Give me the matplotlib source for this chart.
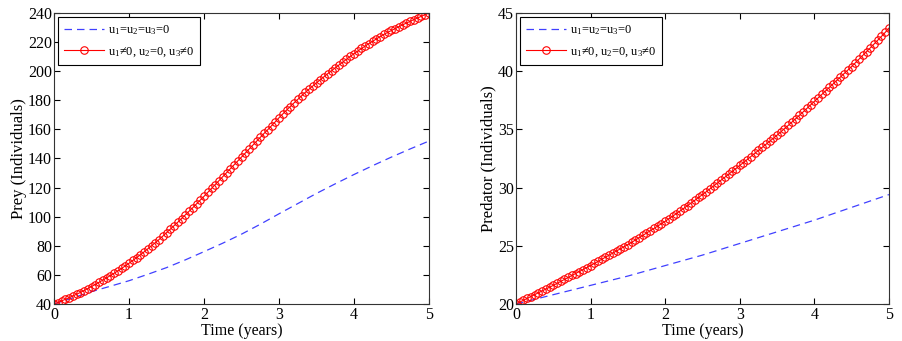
import numpy as np
import matplotlib
matplotlib.use("Agg")
import matplotlib.pyplot as plt

plt.rcParams['font.family'] = ['Liberation Serif', 'DejaVu Serif']
plt.rcParams['mathtext.fontset'] = 'custom'
plt.rcParams['mathtext.rm'] = 'Liberation Serif'
plt.rcParams['mathtext.it'] = 'Liberation Serif'

# time grids
t_fine = np.linspace(0, 5, 101)
t_coarse = np.linspace(0, 5, 21)

# prey, no control (dashed blue)
prey_none = [40, 44.2, 48.5, 52.2, 56, 60.4, 65, 70.3, 76, 81.8, 88,
             94.8, 102, 109, 116, 122.6, 129, 135.1, 141, 146.6, 152]

# prey, u1!=0, u2=0, u3!=0 (red circles)
prey_ctrl = [40, 41.0, 42.1, 43.2, 44.3, 45.5, 46.7, 47.9, 49.2, 50.6, 52.0,
             53.4, 54.9, 56.4, 57.9, 59.5, 61.1, 62.7, 64.4, 66.2, 68.0,
             69.9, 71.8, 73.8, 75.8, 77.9, 80.0, 82.1, 84.3, 86.6, 89.0,
             91.4, 93.8, 96.2, 98.7, 101.2, 103.7, 106.2, 108.8, 111.4, 114.0,
             116.7, 119.4, 122.1, 124.8, 127.5, 130.2, 132.9, 135.6, 138.3, 141.0,
             143.7, 146.4, 149.1, 151.8, 154.5, 157.2, 159.8, 162.5, 165.2, 168.0,
             170.6, 173.2, 175.7, 178.2, 180.6, 183.0, 185.4, 187.6, 189.8, 192.0,
             194.1, 196.2, 198.3, 200.3, 202.3, 204.3, 206.2, 208.2, 210.1, 212.0,
             213.8, 215.6, 217.3, 219.0, 220.6, 222.2, 223.8, 225.3, 226.7, 228.0,
             229.3, 230.6, 231.9, 233.1, 234.3, 235.5, 236.6, 237.8, 238.9, 240.0]

# predator, no control
pred_none = [20, 20.4, 20.8, 21.2, 21.6, 22.0, 22.4, 22.85, 23.3, 23.75, 24.2,
             24.7, 25.2, 25.7, 26.2, 26.7, 27.2, 27.75, 28.3, 28.85, 29.4]

# predator, with control
pred_ctrl = [20.00, 20.16, 20.32, 20.48, 20.64, 20.80, 20.96, 21.12, 21.28, 21.44, 21.60,
             21.77, 21.94, 22.11, 22.28, 22.45, 22.62, 22.79, 22.96, 23.13, 23.30,
             23.48, 23.66, 23.84, 24.02, 24.20, 24.38, 24.56, 24.74, 24.92, 25.10,
             25.29, 25.49, 25.69, 25.89, 26.09, 26.29, 26.49, 26.69, 26.90, 27.10,
             27.32, 27.54, 27.76, 27.99, 28.22, 28.45, 28.68, 28.92, 29.16, 29.40,
             29.64, 29.89, 30.14, 30.39, 30.64, 30.89, 31.14, 31.39, 31.64, 31.90,
             32.15, 32.41, 32.67, 32.93, 33.19, 33.45, 33.71, 33.97, 34.23, 34.50,
             34.78, 35.06, 35.34, 35.63, 35.92, 36.21, 36.50, 36.80, 37.10, 37.40,
             37.70, 38.00, 38.30, 38.60, 38.90, 39.20, 39.50, 39.80, 40.10, 40.40,
             40.72, 41.04, 41.36, 41.68, 42.00, 42.33, 42.66, 42.99, 43.33, 43.70]

label_none = r'u$_1$=u$_2$=u$_3$=0'
label_ctrl = 'u$_1$\u22600, u$_2$=0, u$_3$\u22600'

fig = plt.figure(figsize=(9.02, 3.41), dpi=100)
ax1 = fig.add_axes([0.0599, 0.1085, 0.4157, 0.8534])
ax2 = fig.add_axes([0.572, 0.1085, 0.4135, 0.8534])

panels = [
    (ax1, prey_none, prey_ctrl, 'Prey (Individuals)', (40, 240), np.arange(40, 241, 20)),
    (ax2, pred_none, pred_ctrl, 'Predator (Individuals)', (20, 45), np.arange(20, 46, 5)),
]

for ax, none, ctrl, ylab, ylim, yticks in panels:
    ax.plot(t_coarse, none, '--', color='#4040ff', lw=0.9, dashes=(6, 4), label=label_none)
    ax.plot(t_fine, ctrl, '-', color='red', lw=0.8, marker='o', ms=5.4,
            mfc='none', mec='red', mew=0.8, label=label_ctrl)
    ax.set_xlim(0, 5)
    ax.set_ylim(*ylim)
    ax.set_yticks(yticks)
    ax.set_xticks(range(6))
    ax.set_xlabel('Time (years)', fontsize=11.5, labelpad=0)
    ax.set_ylabel(ylab, fontsize=12, labelpad=1)
    ax.tick_params(direction='in', top=True, right=True, labelsize=11.5,
                   length=4, width=0.8, pad=1.5)
    ax.tick_params(axis='x', pad=2.5)
    for sp in ax.spines.values():
        sp.set_linewidth(0.8)
        sp.set_color('#333333')
    leg = ax.legend(loc='upper left', fontsize=9, fancybox=False, framealpha=1,
                    edgecolor='black', handlelength=3.2, handletextpad=0.3,
                    borderaxespad=0.35, labelspacing=0.7, borderpad=0.45)
    leg.get_frame().set_linewidth(0.8)

fig.savefig('out.png', dpi=100)
